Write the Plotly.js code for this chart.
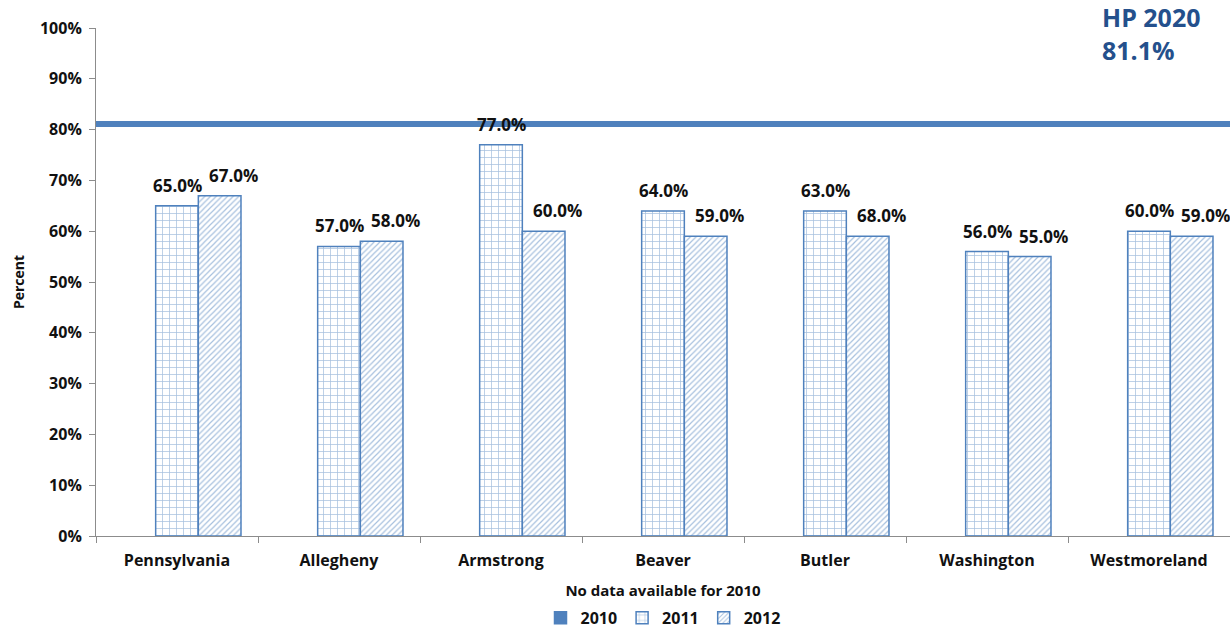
<!DOCTYPE html>
<html>
<head>
<meta charset="utf-8">
<script src="https://cdn.plot.ly/plotly-3.0.1.min.js"></script>
<style>html,body{margin:0;padding:0;background:#fff;}#chart{width:1230px;height:628px;}</style>
</head>
<body>
<div id="chart"></div>
<script>
var categories = ["Pennsylvania", "Allegheny", "Armstrong", "Beaver", "Butler", "Washington", "Westmoreland"];
var values2010 = [null, null, null, null, null, null, null];
var values2011 = [65, 57, 77, 64, 64, 56, 60];
var values2012 = [67, 58, 60, 59, 59, 55, 59];
var labels2011 = ["65.0%", "57.0%", "77.0%", "64.0%", "63.0%", "56.0%", "60.0%"];
var labels2012 = ["67.0%", "58.0%", "60.0%", "59.0%", "68.0%", "55.0%", "59.0%"];
var yTickValues = [0, 10, 20, 30, 40, 50, 60, 70, 80, 90, 100];
var yTickLabels = ["0%", "10%", "20%", "30%", "40%", "50%", "60%", "70%", "80%", "90%", "100%"];
var hpTarget = 81.1;
var hpLabel = "HP 2020<br>81.1%";
var xTitle = "No data available for 2010";
var yTitle = "Percent";

var blue = "#4F81BD";
var FAM = "'Open Sans', 'Liberation Sans', sans-serif";
function bold(size, color) { return {family: FAM, size: size, color: color || "#111", weight: "bold"}; }

var traces = [
  {type: "bar", name: "2010", x: categories, y: values2010,
   marker: {color: blue, line: {color: blue, width: 1.5}}},
  {type: "bar", name: "2011", x: categories, y: values2011,
   marker: {color: "#ffffff", line: {color: blue, width: 1.5},
     pattern: {shape: "+", fgcolor: blue, bgcolor: "#ffffff", size: 7, solidity: 0.2, fillmode: "overlay"}}},
  {type: "bar", name: "2012", x: categories, y: values2012,
   marker: {color: "#ffffff", line: {color: blue, width: 1.5},
     pattern: {shape: "/", fgcolor: blue, bgcolor: "#ffffff", size: 4, solidity: 0.3, fillmode: "overlay"}}}
];

// data labels built from the arrays (2011 bar sits at category centre, 2012 bar one bar-width to the right)
var annotations = [];
var barPx = 42.6;
categories.forEach(function (c, i) {
  annotations.push({x: c, y: values2011[i], xref: "x", yref: "y", text: labels2011[i],
    showarrow: false, yanchor: "bottom", xanchor: "center", xshift: 0, yshift: 7, font: bold(17)});
  annotations.push({x: c, y: values2012[i], xref: "x", yref: "y", text: labels2012[i],
    showarrow: false, yanchor: "bottom", xanchor: "center", xshift: barPx + 14, yshift: 7, font: bold(17)});
});
annotations.push({xref: "paper", yref: "paper", x: 0.885, y: 1.06, xanchor: "left", yanchor: "top",
  text: hpLabel, showarrow: false, align: "left", font: bold(25, "#24508C")});

var layout = {
  width: 1230, height: 628,
  margin: {l: 96, r: 0, t: 28, b: 92, autoexpand: false},
  paper_bgcolor: "#fff", plot_bgcolor: "#fff",
  barmode: "group", bargap: 0.21, bargroupgap: 0,
  font: bold(15),
  showlegend: true,
  legend: {orientation: "h", x: 0.5, xanchor: "center", y: -0.161, yanchor: "middle",
    font: bold(16), itemwidth: 30, tracegroupgap: 0},
  xaxis: {
    type: "category", range: [-0.5, 6.5], automargin: false,
    showline: true, linecolor: "#8c8c8c", linewidth: 1,
    ticks: "outside", tickson: "boundaries", ticklen: 6, tickcolor: "#8c8c8c",
    ticklabelstandoff: 10,
    showgrid: false, zeroline: false,
    tickfont: bold(16),
    title: {text: xTitle, standoff: 15, font: bold(15)}
  },
  yaxis: {
    range: [0, 100], tickvals: yTickValues, ticktext: yTickLabels, automargin: false,
    showline: true, linecolor: "#8c8c8c", linewidth: 1,
    ticks: "outside", ticklen: 6, tickcolor: "#8c8c8c",
    ticklabelstandoff: 4,
    showgrid: false, zeroline: false,
    tickfont: bold(16),
    title: {text: yTitle, standoff: 12, font: bold(14)}
  },
  shapes: [
    {type: "line", xref: "paper", yref: "y", x0: 0, x1: 1, y0: hpTarget, y1: hpTarget,
     line: {color: blue, width: 6}}
  ],
  annotations: annotations
};

Plotly.newPlot("chart", traces, layout, {displayModeBar: false, staticPlot: true});
</script>
</body>
</html>
